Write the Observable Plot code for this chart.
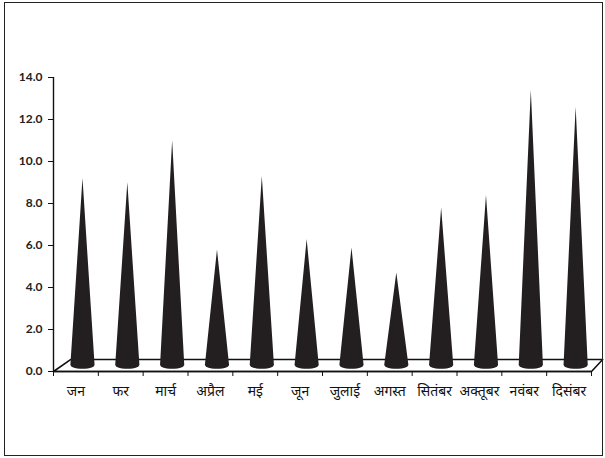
<!DOCTYPE html>
<html><head><meta charset="utf-8">
<script src="https://cdn.jsdelivr.net/npm/d3@7"></script>
<script src="https://cdn.jsdelivr.net/npm/@observablehq/plot@0.6"></script>
<style>
body{margin:0;background:#fff;}
#wrap{position:relative;width:605px;height:458px;overflow:hidden;}
#wrap svg{position:absolute;left:0;top:0;}
#border{position:absolute;left:4px;top:2px;width:597px;height:452px;border:1.5px solid #222;pointer-events:none;}
</style></head><body><div id="wrap"><div id="border"></div></div>
<script>
const months = ["जन","फर","मार्च","अप्रैल","मई","जून","जुलाई","अगस्त","सितंबर","अक्तूबर","नवंबर","दिसंबर"];
const values = [8.9, 8.7, 10.7, 5.5, 9.0, 6.0, 5.6, 4.4, 7.5, 8.1, 13.1, 12.3];
const yTicks = [0, 2, 4, 6, 8, 10, 12, 14];

// 3D look (in scale units)
const depthXL = 0.38, depthXR = 0.25, depthY = 0.57;
const hw = 0.27, dip = 0.18;
const ts = [-1, -0.9, -0.7, -0.45, -0.2, 0, 0.2, 0.45, 0.7, 0.9, 1];

const cone = [];
months.forEach((m, i) => {
  const c = i + 0.5 + (depthXL + depthXR) / 4;
  const b = depthY / 2;
  const top = values[i] + b;
  ts.forEach(t => {
    cone.push({m, x: c + t * hw, y1: b - dip * Math.sqrt(1 - t * t), y2: b + (1 - Math.abs(t)) * (top - b)});
  });
});
const n = months.length;
const floor = [
  {x: 0, y: 0}, {x: depthXL, y: depthY}, {x: n + depthXR, y: depthY}, {x: n, y: 0}, {x: 0, y: 0}
];

const chart = Plot.plot({
  width: 605, height: 458,
  marginLeft: 53, marginRight: 14, marginTop: 77, marginBottom: 87,
  x: {domain: [0, n], axis: null},
  y: {domain: [0, 14], axis: null},
  style: {fontFamily: "Lato, 'Noto Sans', sans-serif", background: "transparent", overflow: "visible"},
  marks: [
    Plot.line(floor, {x: "x", y: "y", fill: "white", stroke: "#111", strokeWidth: 1.6}),
    Plot.areaY(cone, {x: "x", y1: "y1", y2: "y2", z: "m", fill: "#231f20", curve: "linear"}),
    Plot.ruleY([0], {stroke: "#111", strokeWidth: 1.6}),
    Plot.ruleX([0], {y1: 0, y2: 14, stroke: "#111", strokeWidth: 1.4}),
    Plot.axisY({ticks: yTicks, tickSize: 5, tickPadding: 6, tickFormat: d => d.toFixed(1), fontSize: 12, fontWeight: "bold", fill: "#222", stroke: "#111", label: null}),
    Plot.axisX({ticks: d3.range(0, n + 1), tickSize: 5, tickFormat: () => "", stroke: "#111", label: null}),
    Plot.text(months, {x: (d, i) => i + 0.5, y: 0, dy: 20, text: d => d, fontSize: 14, fill: "#111"})
  ]
});
document.getElementById("wrap").prepend(chart);
</script>
</body></html>
